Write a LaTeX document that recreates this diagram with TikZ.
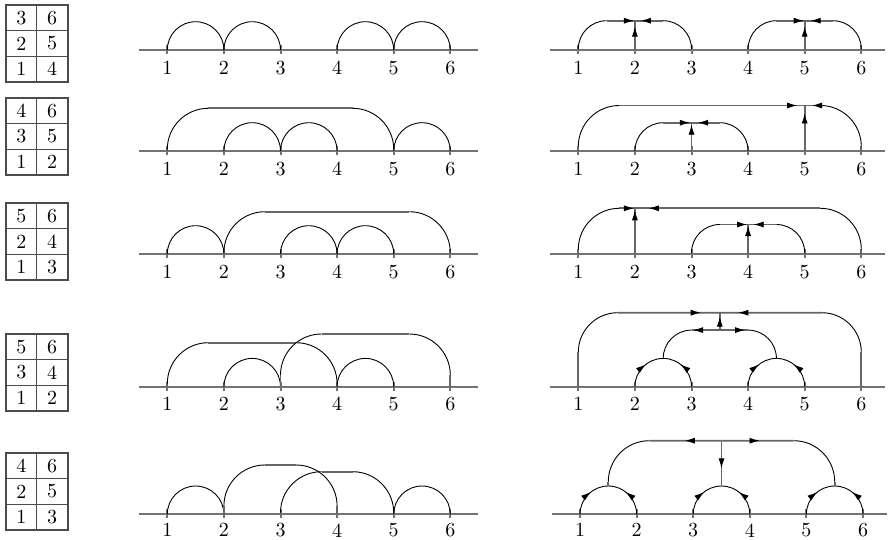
\documentclass[tikz,border=0pt]{standalone}
\usetikzlibrary{calc,arrows.meta,decorations.markings}
\tikzset{
  axisline/.style={draw=black!55, line width=1pt},
  tickmark/.style={draw=black!55, line width=1pt},
  straight/.style={draw=black!60, line width=0.85pt},
  curve/.style={draw=black, line width=0.45pt},
  tipst/.style={-{Latex[length=5pt,width=3pt]}, line width=0.45pt, draw=black},
  lbl/.style={inner sep=0pt},
  tbl/.style={draw=black!70, line width=0.7pt},
  cell/.style={inner sep=0pt},
  marked/.style={curve, postaction={decorate}, decoration={markings, mark=at position 0.58 with {\arrow{Latex[length=5pt,width=3pt]}}}}
}
\newcommand{\Dsemi}[1]{\draw[curve] (#1) arc[start angle=180,end angle=0,radius=28.3];}
\newcommand{\Dsemiarr}[2]{%
  \draw[marked] (#1) arc[start angle=180,end angle=90,radius=28.3];
  \draw[marked] (#2) arc[start angle=0,end angle=90,radius=28.3];}
\newcommand{\Dbigarc}[4]{% from #1 to #2, height #3, radius #4
  \draw[straight] (#1) -- ($(#1)+(0,#3-#4)$);
  \draw[curve] ($(#1)+(0,#3-#4)$) arc[start angle=180,end angle=90,radius=#4];
  \draw[straight] ($(#1)+(#4,#3)$) -- ($(#2)+(-#4,#3)$);
  \draw[curve] ($(#2)+(-#4,#3)$) arc[start angle=90,end angle=0,radius=#4];
  \draw[straight] ($(#2)+(0,#3-#4)$) -- (#2);}
\newcommand{\Dleg}[5]{% source #1, height #2, radius #3, sign #4, junction #5
  \draw[straight] (#1) -- ($(#1)+(0,#2-#3)$);
  \draw[curve] ($(#1)+(0,#2-#3)$) arc[start angle={90+90*(#4)},end angle=90,radius=#3];
  \draw[straight] ($(#1)+({(#4)*#3},#2)$) -- (#5);}
\newcommand{\tipR}[3]{\draw[tipst] ($(#1)+(#2-2,#3)$) -- ($(#1)+(#2,#3)$);}
\newcommand{\tipL}[3]{\draw[tipst] ($(#1)+(#2+2,#3)$) -- ($(#1)+(#2,#3)$);}
\newcommand{\tipU}[3]{\draw[tipst] ($(#1)+(#2,#3-2)$) -- ($(#1)+(#2,#3)$);}
\newcommand{\tipD}[3]{\draw[tipst] ($(#1)+(#2,#3+2)$) -- ($(#1)+(#2,#3)$);}
\newcommand{\Dtab}[8]{%
  \draw[tbl] (6,-#2) rectangle (68,-#2-77);
  \draw[tbl] (6,-#2-25.7) -- (68,-#2-25.7);
  \draw[tbl] (6,-#2-51.3) -- (68,-#2-51.3);
  \draw[tbl] (36.5,-#2) -- (36.5,-#2-77);
  \node[cell] (#1a) at (21.3,-#2-12.9) {#3};
  \node[cell] (#1b) at (52,-#2-12.9) {#4};
  \node[cell] (#1c) at (21.3,-#2-38.5) {#5};
  \node[cell] (#1d) at (52,-#2-38.5) {#6};
  \node[cell] (#1e) at (21.3,-#2-64.1) {#7};
  \node[cell] (#1f) at (52,-#2-64.1) {#8};}
\begin{document}
\begin{tikzpicture}[x=0.5pt,y=0.5pt]
\useasboundingbox (0,0) rectangle (888,-540);
% tables
\Dtab{TA}{5}{3}{6}{2}{5}{1}{4}
\Dtab{TB}{98}{4}{6}{3}{5}{1}{2}
\Dtab{TC}{203}{5}{6}{2}{4}{1}{3}
\Dtab{TD}{334}{5}{6}{3}{4}{1}{2}
\Dtab{TE}{453}{4}{6}{2}{5}{1}{3}
% axes, points, labels
\foreach \r/\yy/\rx/\lo in {1/50/578.3/18, 2/151/578.3/18, 3/254/578.3/18, 4/386.7/578.3/17, 5/514.3/580/16} {
  \draw[axisline] (139,-\yy) -- (478,-\yy);
  \draw[axisline] (\rx-28.3,-\yy) -- (\rx+306.7,-\yy);
  \foreach \i in {1,...,6} {
    \coordinate (L\r p\i) at ({167.3+(\i-1)*56.6},-\yy);
    \coordinate (R\r p\i) at ({\rx+(\i-1)*56.6},-\yy);
    \draw[tickmark] ($(L\r p\i)+(0,5)$) -- ($(L\r p\i)+(0,-4)$);
    \draw[tickmark] ($(R\r p\i)+(0,5)$) -- ($(R\r p\i)+(0,-4)$);
    \node[lbl] (L\r n\i) at ($(L\r p\i)+(0,-\lo)$) {\i};
    \node[lbl] (R\r n\i) at ($(R\r p\i)+(0,-\lo)$) {\i};
  }
}
% ---------- left panel ----------
\Dsemi{L1p1}\Dsemi{L1p2}\Dsemi{L1p4}\Dsemi{L1p5}
\Dbigarc{L2p1}{L2p5}{42.7}{41}\Dsemi{L2p2}\Dsemi{L2p3}\Dsemi{L2p5}
\Dsemi{L3p1}\Dbigarc{L3p2}{L3p6}{42.3}{41}\Dsemi{L3p3}\Dsemi{L3p4}
\Dbigarc{L4p1}{L4p4}{44}{41}\Dsemi{L4p2}\Dbigarc{L4p3}{L4p6}{52.7}{41}\Dsemi{L4p4}
\Dsemi{L5p1}\Dbigarc{L5p2}{L5p4}{49.3}{41}\Dbigarc{L5p3}{L5p5}{42.6}{41}\Dsemi{L5p5}
% ---------- right panel ----------
% row 1
\coordinate (R1j2) at ($(R1p2)+(0,29.3)$);
\coordinate (R1j5) at ($(R1p5)+(0,29.3)$);
\Dleg{R1p1}{29.3}{28.3}{1}{R1j2}\Dleg{R1p3}{29.3}{28.3}{-1}{R1j2}
\draw[straight] (R1p2) -- (R1j2);
\tipR{R1j2}{-1}{0}\tipL{R1j2}{6}{0}\tipU{R1j2}{0}{-6}
\Dleg{R1p4}{29.3}{28.3}{1}{R1j5}\Dleg{R1p6}{29.3}{28.3}{-1}{R1j5}
\draw[straight] (R1p5) -- (R1j5);
\tipR{R1j5}{-1}{0}\tipL{R1j5}{6}{0}\tipU{R1j5}{0}{-6}
% row 2
\coordinate (R2j3) at ($(R2p3)+(0,28.3)$);
\coordinate (R2j5) at ($(R2p5)+(0,45.5)$);
\Dleg{R2p2}{28.3}{28.3}{1}{R2j3}\Dleg{R2p4}{28.3}{28.3}{-1}{R2j3}
\draw[straight] (R2p3) -- (R2j3);
\tipR{R2j3}{-1.7}{0}\tipL{R2j3}{6.6}{0}\tipU{R2j3}{0}{-2}
\Dleg{R2p1}{45.5}{41}{1}{R2j5}\Dleg{R2p6}{45.5}{41}{-1}{R2j5}
\draw[straight] (R2p5) -- (R2j5);
\tipR{R2j5}{-7.6}{0}\tipL{R2j5}{7.4}{0}\tipU{R2j5}{0}{-8}
% row 3
\coordinate (R3j2) at ($(R3p2)+(0,45.7)$);
\coordinate (R3j4) at ($(R3p4)+(0,29.5)$);
\Dleg{R3p1}{45.7}{41}{1}{R3j2}\Dleg{R3p6}{45.7}{41}{-1}{R3j2}
\draw[straight] (R3p2) -- (R3j2);
\tipR{R3j2}{-1}{0}\tipL{R3j2}{14}{0}\tipU{R3j2}{0}{-2}
\Dleg{R3p3}{29.5}{28.3}{1}{R3j4}\Dleg{R3p5}{29.5}{28.3}{-1}{R3j4}
\draw[straight] (R3p4) -- (R3j4);
\tipR{R3j4}{-1}{0}\tipL{R3j4}{5.6}{0}\tipU{R3j4}{0}{-1.5}
% row 4
\coordinate (R4jt) at ($(R4p3)!0.5!(R4p4)+(0,74)$);
\coordinate (R4jm) at ($(R4p3)!0.5!(R4p4)+(0,56.6)$);
\coordinate (R4t23) at ($(R4p2)!0.5!(R4p3)+(0,28.3)$);
\coordinate (R4t45) at ($(R4p4)!0.5!(R4p5)+(0,28.3)$);
\Dleg{R4p1}{74}{39.5}{1}{R4jt}\Dleg{R4p6}{74}{39.5}{-1}{R4jt}
\Dsemiarr{R4p2}{R4p3}\Dsemiarr{R4p4}{R4p5}
\draw[curve] (R4t23) arc[start angle=180,end angle=90,radius=28.3];
\draw[straight] ($(R4p3)+(0,56.6)$) -- ($(R4p4)+(0,56.6)$);
\draw[curve] ($(R4p4)+(0,56.6)$) arc[start angle=90,end angle=0,radius=28.3];
\draw[straight] (R4jm) -- (R4jt);
\tipU{R4jt}{0}{-4}
\tipL{R4p3}{1.6}{56.6}\tipR{R4p4}{-3}{56.6}
\tipR{R4p3}{9.2}{74}\tipL{R4p4}{-9.8}{74}
% row 5
\coordinate (R5jt) at ($(R5p3)!0.5!(R5p4)+(0,73.6)$);
\coordinate (R5t12) at ($(R5p1)!0.5!(R5p2)+(0,28.3)$);
\coordinate (R5t34) at ($(R5p3)!0.5!(R5p4)+(0,28.3)$);
\coordinate (R5t56) at ($(R5p5)!0.5!(R5p6)+(0,28.3)$);
\Dsemiarr{R5p1}{R5p2}\Dsemiarr{R5p3}{R5p4}\Dsemiarr{R5p5}{R5p6}
\Dleg{R5t12}{45.3}{41}{1}{R5jt}\Dleg{R5t56}{45.3}{41}{-1}{R5jt}
\draw[straight] (R5jt) -- (R5t34);
\tipD{R5t34}{0}{17.7}
\tipL{R5jt}{-36.7}{0}\tipR{R5jt}{38}{0}
\end{tikzpicture}
\end{document}
